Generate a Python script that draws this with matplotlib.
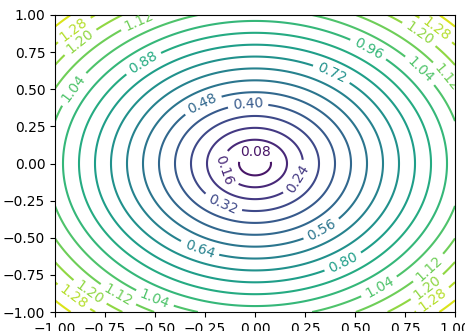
import matplotlib
matplotlib.use("Agg")
import matplotlib.pyplot as plt
import numpy as np
from matplotlib.colors import Normalize

# contour levels drawn on the radial field
levels = [0.08, 0.16, 0.24, 0.32, 0.40, 0.48, 0.56, 0.64, 0.72,
          0.80, 0.88, 0.96, 1.04, 1.12, 1.20, 1.28, 1.36]
x_range = [-1.0, 1.0]
y_range = [-1.0, 1.0]

# where the level labels sit (data coords)
label_spots = [
    (0.0, 0.085), (-0.155, -0.045), (0.21, -0.10), (-0.16, -0.27),
    (-0.035, 0.40), (-0.265, 0.41), (0.34, -0.46), (-0.275, -0.57),
    (0.385, 0.61), (0.435, -0.65), (-0.56, 0.68), (0.565, 0.765),
    (-0.915, 0.51), (0.835, 0.64), (0.625, -0.84), (-0.50, -0.905),
    (-0.575, 0.95), (0.96, 0.58), (0.865, -0.70), (-0.685, -0.885),
    (-0.875, 0.82), (0.825, 0.88), (0.865, -0.84), (-0.825, -0.865),
    (-0.915, 0.92), (0.91, 0.91), (0.89, -0.92), (-0.91, -0.905),
]

x = np.linspace(x_range[0], x_range[1], 400)
y = np.linspace(y_range[0], y_range[1], 400)
X, Y = np.meshgrid(x, y)
Z = np.sqrt(X ** 2 + Y ** 2)

fig = plt.figure(figsize=(4.65, 3.31), dpi=100)
ax = fig.add_axes([55 / 465, 1 - 312 / 331, 400 / 465, 297 / 331])
cs = ax.contour(X, Y, Z, levels=levels, cmap="viridis", norm=Normalize(0, 1.44))
ax.clabel(cs, inline=True, fontsize=10, manual=label_spots)

fig.savefig("out.png", dpi=100)
